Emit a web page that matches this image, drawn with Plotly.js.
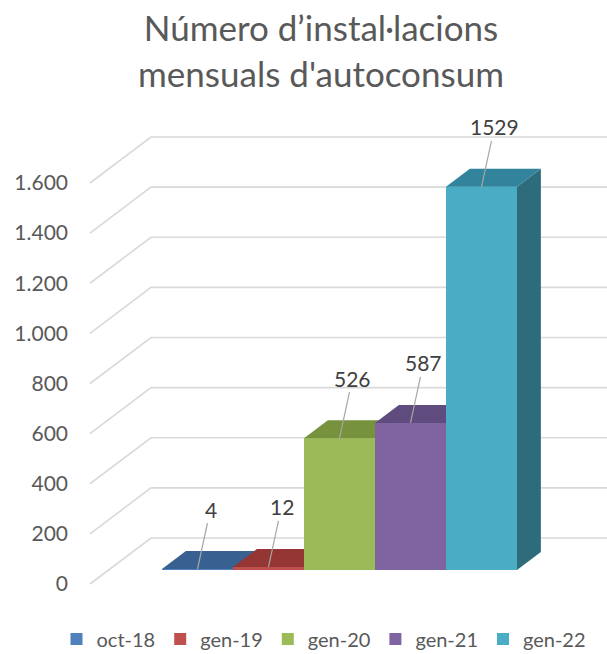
<!DOCTYPE html>
<html>
<head>
<meta charset="utf-8">
<script src="https://cdn.plot.ly/plotly-3.0.1.min.js"></script>
<style>html,body{margin:0;padding:0;background:#fff;}#chart{width:607px;height:654px;}</style>
</head>
<body>
<div id="chart"></div>
<script>
// ---- data ----
const categories = ['oct-18', 'gen-19', 'gen-20', 'gen-21', 'gen-22'];
const values = [4, 12, 526, 587, 1529];
const yTicks = [0, 200, 400, 600, 800, 1000, 1200, 1400, 1600];
const yTickText = ['0', '200', '400', '600', '800', '1.000', '1.200', '1.400', '1.600'];
const titleText = 'Número d’instal·lacions<br>mensuals d\'autoconsum';

// ---- styles ----
const frontColors = ['#4F81BD', '#C0504D', '#9BBB59', '#8064A2', '#4BACC6'];
const topColors   = ['#386192', '#943634', '#76923C', '#5F4B7E', '#31849B'];
const sideColors  = ['#2C4D74', '#772B29', '#5E7530', '#4C3C65', '#2E6C7C'];
const FONT = 'Lato, "Open Sans", sans-serif';
const TXT = '#595959';

// ---- geometry (pixels / oblique projection) ----
const W = 607, H = 654, L = 69, T = 100, B = 60;
const K = 401 / 1600;             // px per value unit
const Y0 = 584;                   // px of value 0 at front of floor
const DX = 61, DV = 46 / K;       // floor depth offset (x px, value units)
const WALL_X = 90;                // left wall front x
const F = 14 / 46, BK = 32 / 46;  // bar front / back depth fractions
const BAR_W = 71, BAR_X0 = 162;   // first bar front-left x, bar width

const yMin = (Y0 - (H - B)) / K, yMax = (Y0 - T) / K;
const P = (x, v, d) => [x + d * DX, v + d * DV];

const traces = [];
// gridlines: left wall diagonals + back wall horizontals
const gx = [], gy = [];
yTicks.forEach(v => {
  const a = P(WALL_X, v, 0), b = P(WALL_X, v, 1);
  gx.push(a[0], b[0], W, null); gy.push(a[1], b[1], b[1], null);
});
traces.push({type: 'scatter', mode: 'lines', x: gx, y: gy, line: {color: '#D9D9D9', width: 1.6},
  hoverinfo: 'skip', showlegend: false});

// legend bars (front faces)
categories.forEach((c, i) => {
  const x0 = BAR_X0 - F * DX + BAR_W * i;
  traces.push({type: 'bar', name: c, x: [x0 + BAR_W / 2 + F * DX], y: [values[i]], base: [F * DV],
    width: [BAR_W], marker: {color: frontColors[i], line: {width: 0}}, hoverinfo: 'skip'});
});

// 3D faces drawn in order
const poly = (pts, color) => ({type: 'scatter', mode: 'lines', fill: 'toself', fillcolor: color,
  x: pts.map(p => p[0]).concat([pts[0][0]]), y: pts.map(p => p[1]).concat([pts[0][1]]),
  line: {width: 0, color: color}, hoverinfo: 'skip', showlegend: false});
categories.forEach((c, i) => {
  const x0 = BAR_X0 - F * DX + BAR_W * i, x1 = x0 + BAR_W, v = values[i];
  traces.push(poly([P(x1, 0, F), P(x1, v, F), P(x1, v, BK), P(x1, 0, BK)], sideColors[i]));
  traces.push(poly([P(x0, 0, F), P(x1, 0, F), P(x1, v, F), P(x0, v, F)], frontColors[i]));
  traces.push(poly([P(x0, v, F), P(x1, v, F), P(x1, v, BK), P(x0, v, BK)], topColors[i]));
});

// data labels with leader lines
const annotations = categories.map((c, i) => {
  const x0 = BAR_X0 + BAR_W * i;
  return {x: x0 + BAR_W / 2, y: values[i] + F * DV, xref: 'x', yref: 'y', text: String(values[i]),
    showarrow: true, arrowhead: 0, arrowwidth: 1.2, arrowcolor: '#A6A6A6', ax: 13, ay: -60,
    standoff: 0, font: {family: FONT, size: 21, color: '#404040'}};
});

const layout = {
  width: W, height: H, paper_bgcolor: '#fff', plot_bgcolor: '#fff',
  margin: {l: L, r: 0, t: T, b: B, autoexpand: false},
  title: {text: titleText, font: {family: FONT, size: 35, color: TXT}, x: 321 / W, xanchor: 'center',
    xref: 'container', yref: 'container', y: 1 - 41 / H, yanchor: 'middle'},
  xaxis: {range: [L, W], visible: false, fixedrange: true},
  yaxis: {range: [yMin, yMax], tickvals: yTicks, ticktext: yTickText, showgrid: false, zeroline: false,
    showline: false, ticks: '', tickfont: {family: FONT, size: 21, color: TXT}, fixedrange: true},
  barmode: 'overlay',
  showlegend: true,
  legend: {orientation: 'h', x: (324 - L) / (W - L), xanchor: 'center', y: (H - B - 639) / (H - T - B),
    yanchor: 'middle', font: {family: FONT, size: 20, color: TXT}, traceorder: 'normal'},
  annotations: annotations
};

Plotly.newPlot('chart', traces, layout, {displayModeBar: false, staticPlot: true});
</script>
</body>
</html>
